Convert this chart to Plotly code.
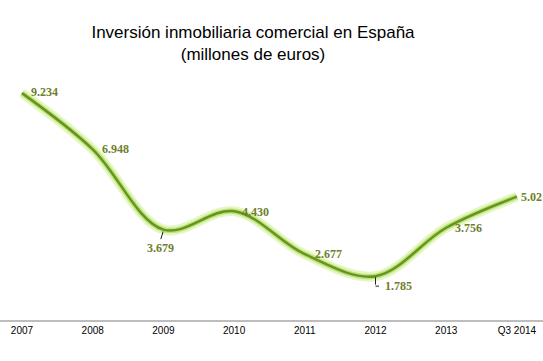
import plotly.graph_objects as go

categories = ["2007", "2008", "2009", "2010", "2011", "2012", "2013", "Q3 2014"]
values = [9.234, 6.948, 3.679, 4.430, 2.677, 1.785, 3.756, 5.02]
labels = ["9.234", "6.948", "3.679", "4.430", "2.677", "1.785", "3.756", "5.02"]

label_color = "#6e7e2c"
x_idx = list(range(len(categories)))

fig = go.Figure()
# glow layers
fig.add_trace(go.Scatter(x=x_idx, y=values, mode="lines", line=dict(shape="spline", smoothing=1.0, color="rgba(205,240,140,0.5)", width=10), hoverinfo="skip", showlegend=False))
fig.add_trace(go.Scatter(x=x_idx, y=values, mode="lines", line=dict(shape="spline", smoothing=1.0, color="rgba(165,215,80,0.6)", width=5.5), hoverinfo="skip", showlegend=False))
fig.add_trace(go.Scatter(x=x_idx, y=values, mode="lines", line=dict(shape="spline", smoothing=1.0, color="#66951f", width=2.5), hoverinfo="skip", showlegend=False))

lab_font = dict(family="Liberation Serif, Times New Roman, serif", size=12, color=label_color)
# per-label offsets (xshift, yshift, anchor)
offsets = {
    0: (8, 1, "left"),
    1: (8, 0, "left"),
    2: (-3, -18, "center"),
    3: (7, -1, "left"),
    4: (9, 0, "left"),
    5: (8, -10, "left"),
    6: (8, 0, "left"),
    7: (3, 0, "left"),
}
for i, (v, t) in enumerate(zip(values, labels)):
    xs, ys, anc = offsets[i]
    fig.add_annotation(x=i, y=v, text="<b>%s</b>" % t, showarrow=False, xanchor=anc, yanchor="middle",
                       xshift=xs, yshift=ys, font=lab_font, borderpad=0)

# leader lines
fig.add_annotation(x=2, y=values[2], text="", showarrow=True, arrowhead=0, arrowwidth=1, arrowcolor="#222",
                   ax=-3, ay=10, standoff=1, yshift=-1)
fig.add_annotation(x=5, y=values[5], text="", showarrow=True, arrowhead=0, arrowwidth=1, arrowcolor="#222",
                   ax=0, ay=10, standoff=1)
fig.add_annotation(x=5, y=values[5], text="", showarrow=True, arrowhead=0, arrowwidth=1, arrowcolor="#222",
                   ax=5, ay=0, yshift=-10, standoff=0)

fig.update_layout(
    width=543, height=361,
    margin=dict(l=0, r=0, t=63, b=41),
    paper_bgcolor="white", plot_bgcolor="white",
    title=dict(text="Inversión inmobiliaria comercial en España<br>(millones de euros)",
               x=253/543, xanchor="center", y=1-38/361, yanchor="middle", yref="container",
               font=dict(family="Liberation Sans, Arial, sans-serif", size=17, color="black")),
    xaxis=dict(range=[-0.311, 7.369], tickmode="array", tickvals=x_idx, ticktext=categories,
               showgrid=False, zeroline=False, showline=True, linecolor="#bdbdbd", linewidth=2,
               ticks="", tickfont=dict(family="Liberation Sans, Arial, sans-serif", size=10, color="black"),
               fixedrange=True),
    yaxis=dict(range=[0, 10.46], showgrid=False, zeroline=False, showticklabels=False, showline=False,
               fixedrange=True),
    showlegend=False,
)

fig.write_html("out.html", config={"displayModeBar": False},
               post_script="document.body.style.margin='0';document.body.style.overflow='hidden';")
